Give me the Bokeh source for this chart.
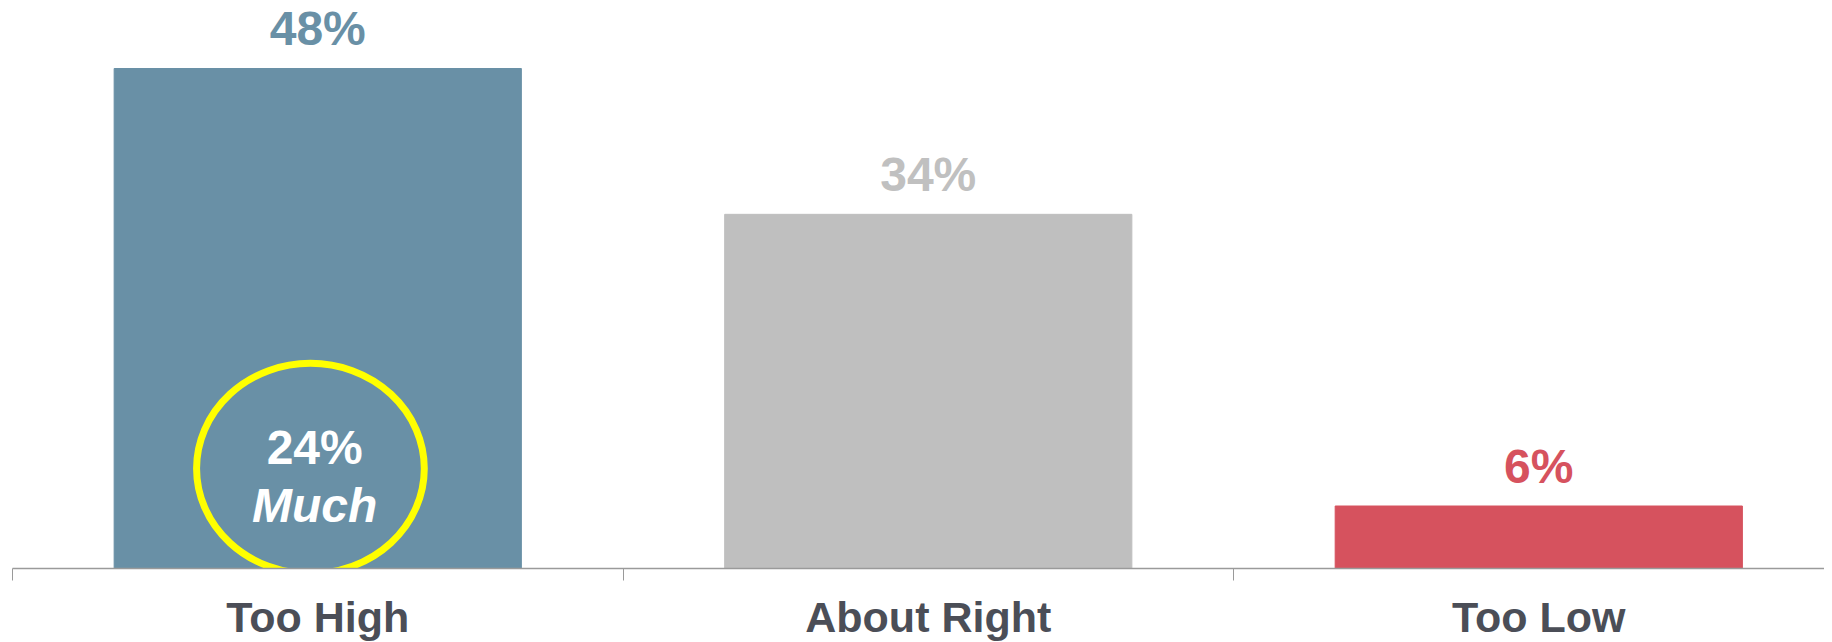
from bokeh.plotting import figure
from bokeh.models import FixedTicker, Range1d, ColumnDataSource
from bokeh.core.properties import value
from bokeh.embed import file_html
from bokeh.resources import INLINE

categories = ["Too High", "About Right", "Too Low"]
values = [48, 34, 6]
bar_colors = ["#6990a6", "#bfbfbf", "#d6525e"]
label_colors = ["#6990a6", "#c0c0c0", "#d6525e"]
value_labels = [f"{v}%" for v in values]
sub_value = 24
sub_label = "Much"

xs = [i + 0.5 for i in range(len(categories))]
bounds = [i for i in range(len(categories) + 1)]
label_gap = 1.9  # data units above each bar
label_y = [v + label_gap for v in values]

src = ColumnDataSource(dict(x=xs, top=values, color=bar_colors,
                            lcolor=label_colors, label=value_labels, ly=label_y))

p = figure(frame_width=1812, frame_height=560,
           x_range=Range1d(0, 2.968), y_range=Range1d(0, 53.76),
           output_backend="svg", toolbar_location=None,
           min_border_left=12, min_border_right=0, min_border_top=8,
           min_border_bottom=0)
p.outline_line_color = None
p.grid.visible = False
p.yaxis.visible = False

p.vbar(x="x", top="top", width=0.667, color="color", source=src)

p.text(x="x", y="ly", text="label", text_color="lcolor", source=src,
       text_font=value("Liberation Sans"), text_font_style="bold",
       text_font_size="48px", text_align="center", text_baseline="alphabetic",
       y_offset=-20)

# highlight ellipse with sub value
p.ellipse(x=[xs[0] - 0.012], y=[9.6], width=0.373, height=20.2,
          fill_color=None, line_color="#ffff00", line_width=7)
p.text(x=[xs[0] - 0.005], y=[10.1], text=[f"{sub_value}%"], text_color="white",
       text_font=value("Liberation Sans"), text_font_style="bold",
       text_font_size="48px", text_align="center", text_baseline="alphabetic",
       y_offset=-16)
p.text(x=[xs[0] - 0.005], y=[4.5], text=[sub_label], text_color="white",
       text_font=value("Liberation Sans"), text_font_style="bold italic",
       text_font_size="48px", text_align="center", text_baseline="alphabetic",
       y_offset=-16)

ax = p.xaxis[0]
ax.ticker = FixedTicker(ticks=xs, minor_ticks=bounds)
ax.major_label_overrides = {x: c for x, c in zip(xs, categories)}
ax.axis_line_color = "#9a9a9a"
ax.axis_line_width = 1.5
ax.major_tick_line_color = None
ax.major_tick_in = 0
ax.major_tick_out = 0
ax.minor_tick_line_color = "#9a9a9a"
ax.minor_tick_in = 0
ax.minor_tick_out = 12
ax.minor_tick_line_width = 1
ax.major_label_standoff = 12
ax.major_label_text_font = "Liberation Sans"
ax.major_label_text_font_style = "bold"
ax.major_label_text_font_size = "43px"
ax.major_label_text_color = "#4b4e57"

open("out.html", "w").write(file_html(p, INLINE))
